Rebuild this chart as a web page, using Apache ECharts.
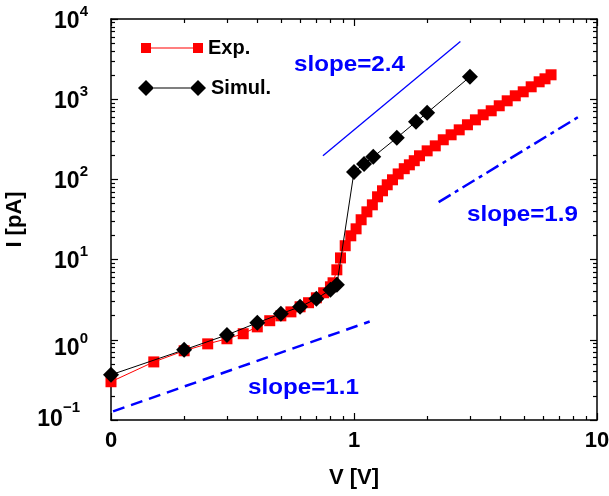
<!DOCTYPE html>
<html>
<head>
<meta charset="utf-8">
<script src="https://cdn.jsdelivr.net/npm/echarts@6.0.0/dist/echarts.min.js"></script>
<style>
  body { margin: 0; background: #fff; }
  #chart { width: 609px; height: 496px; }
</style>
</head>
<body>
<div id="chart"></div>
<script>
// measured I-V, red squares
var expV = [0.1, 0.15, 0.2, 0.25, 0.3, 0.35, 0.4, 0.45, 0.5, 0.55, 0.6, 0.65, 0.7, 0.75, 0.8, 0.82, 0.85, 0.88, 0.92, 0.97,
            1.02, 1.07, 1.13, 1.19, 1.25, 1.31, 1.37, 1.44, 1.52, 1.61, 1.69, 1.77, 1.86, 2.0, 2.16, 2.33, 2.51, 2.71, 2.93, 3.16,
            3.4, 3.67, 3.96, 4.27, 4.61, 4.97, 5.36, 5.78, 6.11, 6.47];
var expI = [0.30, 0.53, 0.73, 0.89, 1.03, 1.19, 1.45, 1.73, 1.99, 2.23, 2.58, 2.9, 3.34, 3.86, 4.58, 5.14, 7.46, 10.5, 14.9, 19.8,
            24.2, 31.4, 39.4, 48.2, 60.7, 72.1, 85.7, 98.9, 117, 136, 152, 171, 197, 227, 262, 312, 360, 415, 480, 553,
            639, 717, 828, 955, 1103, 1237, 1428, 1648, 1796, 2015];

// simulation, black diamonds
var simV = [0.1, 0.2, 0.3, 0.4, 0.5, 0.6, 0.7, 0.8, 0.85, 1.0, 1.1, 1.2, 1.5, 1.8, 2.0, 3.0];
var simI = [0.366, 0.75, 1.15, 1.63, 2.11, 2.58, 3.25, 4.2, 4.85, 124, 156, 191, 330, 523, 677, 1903];

// guide lines for the slopes
var slope11V = [0.102, 1.16];
var slope11I = [0.128, 1.69];
var slope24V = [0.745, 2.74];
var slope24I = [197, 5244];
var slope19V = [2.23, 8.44];
var slope19I = [52.1, 608];

// ticks
var xTickValues = [0.1, 1, 10];
var xTickLabels = ['0', '1', '10'];
var xMinorTicks = [0.2, 0.3, 0.4, 0.5, 0.6, 0.7, 0.8, 0.9, 2, 3, 4, 5, 6, 7, 8, 9];
var yTickValues = [0.1, 1, 10, 100, 1000, 10000];
var yTickExps = ['\u22121', '0', '1', '2', '3', '4'];
var yMinorTicks = [0.2, 0.3, 0.4, 0.5, 0.6, 0.7, 0.8, 0.9, 2, 3, 4, 5, 6, 7, 8, 9,
                   20, 30, 40, 50, 60, 70, 80, 90, 200, 300, 400, 500, 600, 700, 800, 900,
                   2000, 3000, 4000, 5000, 6000, 7000, 8000, 9000];

var FONT = 'Liberation Sans';

function pairs(xs, ys) {
  return xs.map(function (x, i) { return [x, ys[i]]; });
}

function xAxisOf(position, ticks, len, main) {
  return {
    type: 'log', logBase: 10, min: 0.1, max: 10, position: position,
    name: main && position === 'bottom' ? 'V [V]' : '',
    nameLocation: 'middle', nameGap: 47,
    nameTextStyle: { fontFamily: FONT, fontWeight: 'bold', fontSize: 22, color: '#000' },
    axisLine: { show: main, onZero: false, lineStyle: { color: '#000', width: 1.5 } },
    axisTick: { show: true, inside: true, length: len, customValues: ticks, lineStyle: { color: '#000', width: 1.2 } },
    axisLabel: {
      show: main && position === 'bottom', customValues: xTickValues, margin: 10,
      fontFamily: FONT, fontWeight: 'bold', fontSize: 22, color: '#000',
      formatter: function (v) {
        var i = xTickValues.findIndex(function (t) { return Math.abs(t - v) / t < 1e-6; });
        return i < 0 ? '' : xTickLabels[i];
      }
    },
    splitLine: { show: false }
  };
}

function yAxisOf(position, ticks, len, main) {
  var bold = { fontFamily: FONT, fontWeight: 'bold', color: '#000' };
  return {
    type: 'log', logBase: 10, min: 0.1, max: 10000, position: position,
    name: main && position === 'left' ? 'I [pA]' : '',
    nameLocation: 'middle', nameGap: 75,
    nameTextStyle: { fontFamily: FONT, fontWeight: 'bold', fontSize: 22, color: '#000' },
    axisLine: { show: main, onZero: false, lineStyle: { color: '#000', width: 1.5 } },
    axisTick: { show: true, inside: true, length: len, customValues: ticks, lineStyle: { color: '#000', width: 1.2 } },
    axisLabel: {
      show: main && position === 'left', customValues: yTickValues, margin: 23,
      color: '#000',
      formatter: function (v) {
        var i = yTickValues.findIndex(function (t) { return Math.abs(t - v) / t < 1e-6; });
        if (i < 0) return '';
        var e = yTickExps[i];
        if (e === '0') return '{b0|10}{s0|' + e + '}';
        if (e.length > 1) return '{bn|10}{sn|' + e + '}';
        return '{b|10}{s|' + e + '}';
      },
      rich: {
        b: Object.assign({ fontSize: 23, lineHeight: 30, padding: [5, 0, 0, 0] }, bold),
        s: Object.assign({ fontSize: 15, lineHeight: 15, verticalAlign: 'top' }, bold),
        bn: Object.assign({ fontSize: 23, lineHeight: 40 }, bold),
        sn: Object.assign({ fontSize: 15, lineHeight: 15, verticalAlign: 'top', padding: [0, 8, 0, 0] }, bold),
        b0: Object.assign({ fontSize: 23, lineHeight: 30, padding: [18, 0, 0, 0] }, bold),
        s0: Object.assign({ fontSize: 15, lineHeight: 15, verticalAlign: 'top', padding: [7, 0, 0, 0] }, bold)
      }
    },
    splitLine: { show: false }
  };
}

var myChart = echarts.init(document.getElementById('chart'));

var legendText = { fontFamily: FONT, fontWeight: 'bold', fontSize: 20, color: '#000' };

var option = {
  animation: false,
  backgroundColor: '#fff',
  grid: { left: 111, right: 12, top: 19, bottom: 76, outerBoundsMode: 'none', containLabel: false },
  xAxis: [
    xAxisOf('bottom', xTickValues, 7, true),
    xAxisOf('bottom', xMinorTicks, 4, false),
    xAxisOf('top', xTickValues, 7, true),
    xAxisOf('top', xMinorTicks, 4, false)
  ],
  yAxis: [
    yAxisOf('left', yTickValues, 7, true),
    yAxisOf('left', yMinorTicks, 4, false),
    yAxisOf('right', yTickValues, 7, true),
    yAxisOf('right', yMinorTicks, 4, false)
  ],
  legend: [
    {
      data: ['Exp.'], left: 141, top: 38, padding: 0, selectedMode: false,
      itemWidth: 62, itemHeight: 10,
      icon: 'path://M0,0h10v10h-10zM10,4.5h42v1h-42zM52,0h10v10h-10z',
      textStyle: legendText
    },
    {
      data: ['Simul.'], left: 138, top: 78, padding: 0, selectedMode: false,
      itemWidth: 68, itemHeight: 16,
      icon: 'path://M0,8L8,0L16,8L8,16zM16,7.5h36v1h-36zM52,8L60,0L68,8L60,16z',
      textStyle: legendText
    }
  ],
  graphic: [
    { type: 'text', x: 294, y: 65, scaleX: 1.1, silent: true,
      style: { text: 'slope=2.4', fill: '#0000ff', font: 'bold 22px "Liberation Sans"', verticalAlign: 'middle' } },
    { type: 'text', x: 467, y: 215, scaleX: 1.1, silent: true,
      style: { text: 'slope=1.9', fill: '#0000ff', font: 'bold 22px "Liberation Sans"', verticalAlign: 'middle' } },
    { type: 'text', x: 248, y: 388, scaleX: 1.1, silent: true,
      style: { text: 'slope=1.1', fill: '#0000ff', font: 'bold 22px "Liberation Sans"', verticalAlign: 'middle' } }
  ],
  series: [
    {
      name: 'slope 1.1', type: 'line', data: pairs(slope11V, slope11I), symbol: 'none', silent: true, z: 1,
      lineStyle: { color: '#0000ff', width: 2.5, type: [12, 7] }
    },
    {
      name: 'slope 2.4', type: 'line', data: pairs(slope24V, slope24I), symbol: 'none', silent: true, z: 1,
      lineStyle: { color: '#0000ff', width: 1.3 }
    },
    {
      name: 'slope 1.9', type: 'line', data: pairs(slope19V, slope19I), symbol: 'none', silent: true, z: 1,
      lineStyle: { color: '#0000ff', width: 2.5, type: [14, 5, 4, 5] }
    },
    {
      name: 'Exp.', type: 'line', data: pairs(expV, expI), clip: false, z: 2,
      symbol: 'rect', symbolSize: 11,
      itemStyle: { color: '#ff0000' },
      lineStyle: { color: '#ff0000', width: 1 }
    },
    {
      name: 'Simul.', type: 'line', data: pairs(simV, simI), clip: false, z: 3,
      symbol: 'diamond', symbolSize: 16,
      itemStyle: { color: '#000' },
      lineStyle: { color: '#000', width: 1 }
    }
  ]
};

myChart.setOption(option);
</script>
</body>
</html>
